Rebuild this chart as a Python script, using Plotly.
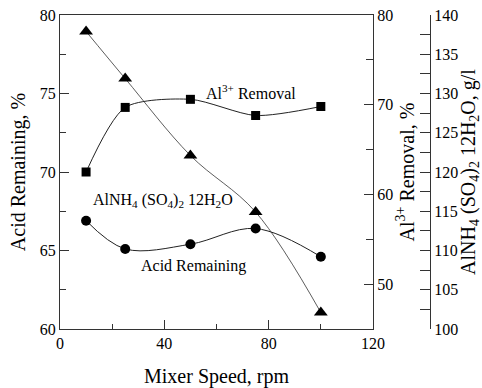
import plotly.graph_objects as go

# Data
mixer_speed = [10, 25, 50, 75, 100]
acid_remaining = [66.9, 65.1, 65.4, 66.4, 64.6]          # left axis, %
al_removal = [62.5, 69.7, 70.6, 68.8, 69.8]              # Al3+ removal, %
alum_conc = [137.9, 131.9, 122.1, 114.9, 102.1]          # AlNH4(SO4)2 12H2O, g/l

FONT = "Liberation Serif"
W, H = 482, 388
ML, MR, MT, MB = 60, 0, 15, 59
plot_w = W - ML - MR
x_end = (373 - ML) / plot_w
y3_pos = (430 - ML) / plot_w

fig = go.Figure()

fig.add_trace(go.Scatter(
    x=mixer_speed, y=acid_remaining, mode="lines+markers", yaxis="y",
    line=dict(color="#222", width=1, shape="spline", smoothing=1),
    marker=dict(symbol="circle", size=10, color="black"),
    name="Acid Remaining", showlegend=False))

fig.add_trace(go.Scatter(
    x=mixer_speed, y=al_removal, mode="lines+markers", yaxis="y2",
    line=dict(color="#222", width=1, shape="spline", smoothing=0.75),
    marker=dict(symbol="square", size=9, color="black"),
    name="Al3+ Removal", showlegend=False))

fig.add_trace(go.Scatter(
    x=mixer_speed, y=alum_conc, mode="lines+markers", yaxis="y3",
    line=dict(color="#333", width=0.8, shape="spline", smoothing=1),
    marker=dict(symbol="triangle-up", size=12, color="black"),
    name="AlNH4(SO4)2 12H2O", showlegend=False))

tickfont = dict(family=FONT, size=16, color="black")
titlefont = dict(family=FONT, size=20, color="black")

fig.update_layout(
    width=W, height=H,
    margin=dict(l=ML, r=MR, t=MT, b=MB),
    paper_bgcolor="white", plot_bgcolor="white",
    font=dict(family=FONT, color="black"),
    xaxis=dict(
        domain=[0, x_end], range=[0, 120], tickmode="linear", tick0=0, dtick=40,
        ticks="inside", ticklen=9, tickcolor="#333", showline=True, linecolor="#333",
        linewidth=1.2, mirror=True, showgrid=False, zeroline=False, tickfont=tickfont,
        minor=dict(dtick=20, ticks="inside", ticklen=5, tickcolor="#333", showgrid=False),
        title=dict(text="Mixer Speed, rpm", font=titlefont, standoff=22),
        automargin=False),
    yaxis=dict(
        range=[60, 80], tickmode="linear", tick0=60, dtick=5,
        ticks="inside", ticklen=9, tickcolor="#333", showline=True, linecolor="#333",
        linewidth=1.2, showgrid=False, zeroline=False, tickfont=tickfont,
        minor=dict(dtick=2.5, ticks="inside", ticklen=6, tickcolor="#333", showgrid=False),
        title=dict(text="Acid Remaining, %", font=titlefont, standoff=8),
        automargin=False),
    yaxis2=dict(
        overlaying="y", side="right", anchor="x", range=[45, 80],
        tickmode="array", tickvals=[50, 60, 70, 80],
        ticks="inside", ticklen=9, tickcolor="#333", showline=True, linecolor="#333",
        linewidth=1.2, showgrid=False, zeroline=False, tickfont=tickfont,
        minor=dict(tickvals=[55, 65, 75], ticks="inside", ticklen=7, tickcolor="#333", showgrid=False),
        title=dict(text="Al<sup>3+</sup> Removal, %", font=titlefont, standoff=4),
        automargin=False),
    yaxis3=dict(
        overlaying="y", side="right", anchor="free", position=y3_pos, range=[100, 140],
        tickmode="linear", tick0=100, dtick=5,
        ticks="inside", ticklen=10, tickcolor="#333", showline=True, linecolor="#333",
        linewidth=1.2, showgrid=False, zeroline=False, tickfont=tickfont,
        minor=dict(dtick=2.5, ticks="inside", ticklen=10, tickcolor="#333", showgrid=False),
        title=dict(text="AlNH<sub>4</sub> (SO<sub>4</sub>)<sub>2</sub> 12H<sub>2</sub>O, g/l",
                   font=titlefont, standoff=2),
        automargin=False),
    annotations=[
        dict(text="Al<sup>3+</sup> Removal", x=73.4, y=75.1, xref="x", yref="y",
             showarrow=False, font=dict(family=FONT, size=16, color="black")),
        dict(text="AlNH<sub>4</sub> (SO<sub>4</sub>)<sub>2</sub> 12H<sub>2</sub>O",
             x=39.6, y=68.2, xref="x", yref="y",
             showarrow=False, font=dict(family=FONT, size=16, color="black")),
        dict(text="Acid Remaining", x=51.1, y=64.0, xref="x", yref="y",
             showarrow=False, font=dict(family=FONT, size=16, color="black")),
    ],
)

fig.write_html("out.html")
